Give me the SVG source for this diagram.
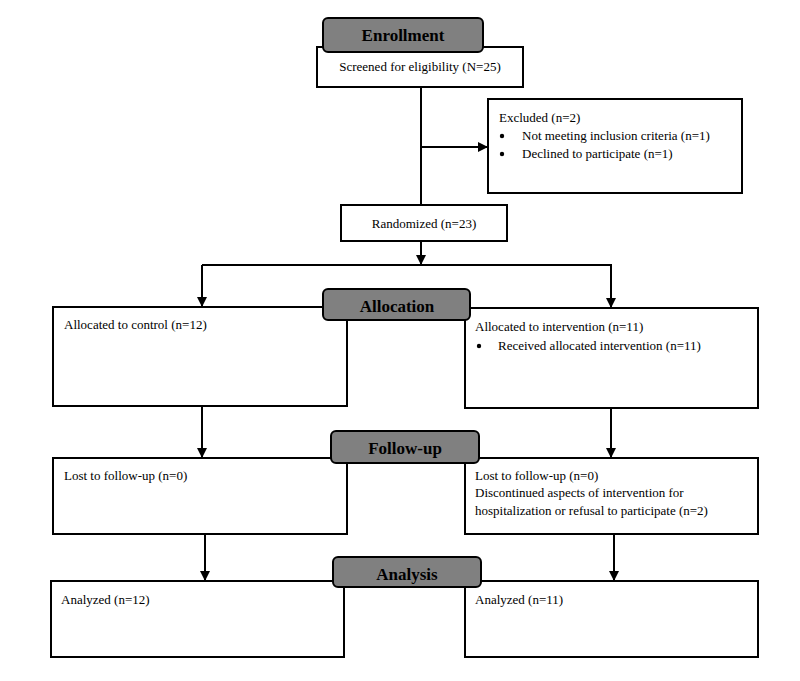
<svg xmlns="http://www.w3.org/2000/svg" width="800" height="681" viewBox="0 0 800 681">
<defs>
<marker id="ah" viewBox="0 0 10 10" refX="10" refY="5" markerWidth="10" markerHeight="10" markerUnits="userSpaceOnUse" orient="auto">
<path d="M0,0 L10,5 L0,10 Z" fill="#000"/>
</marker>
<style>
.box{fill:#fff;stroke:#000;stroke-width:2}
.hdr{fill:#808080;stroke:#000;stroke-width:2}
.t{font-family:"Liberation Serif","Times New Roman",serif;font-size:13px;fill:#000}
.h{font-family:"Liberation Serif","Times New Roman",serif;font-size:17px;font-weight:bold;fill:#000;text-anchor:middle}
.c{fill:none;stroke:#000;stroke-width:2}
</style>
</defs>
<rect width="800" height="681" fill="#fff"/>
<g id="connectors">
<path class="c" d="M421,87 V205"/>
<path class="c" d="M421,147 H488" marker-end="url(#ah)"/>
<path class="c" d="M421,241 V265" marker-end="url(#ah)"/>
<path class="c" d="M202,265 H612"/>
<path class="c" d="M202,265 V307" marker-end="url(#ah)"/>
<path class="c" d="M611,265 V308" marker-end="url(#ah)"/>
<path class="c" d="M202,406 V458" marker-end="url(#ah)"/>
<path class="c" d="M611,408 V458" marker-end="url(#ah)"/>
<path class="c" d="M205,534 V581" marker-end="url(#ah)"/>
<path class="c" d="M614,534 V581" marker-end="url(#ah)"/>
</g>
<g id="screened">
<rect class="box" x="317" y="47" width="206" height="40"/>
<text class="t" x="420" y="71" text-anchor="middle">Screened for eligibility (N=25)</text>
</g>
<g id="enrollment">
<rect class="hdr" x="323" y="18" width="160" height="34" rx="5"/>
<text class="h" x="403" y="41">Enrollment</text>
</g>
<g id="excluded">
<rect class="box" x="488" y="99" width="254" height="94"/>
<text class="t" x="499" y="122">Excluded (n=2)</text>
<circle cx="502" cy="136" r="2.2"/>
<text class="t" x="522" y="140">Not meeting inclusion criteria (n=1)</text>
<circle cx="502" cy="154" r="2.2"/>
<text class="t" x="522" y="158">Declined to participate (n=1)</text>
</g>
<g id="randomized">
<rect class="box" x="341" y="205" width="166" height="36"/>
<text class="t" x="424" y="228" text-anchor="middle">Randomized (n=23)</text>
</g>
<g id="control">
<rect class="box" x="53" y="307" width="294" height="99"/>
<text class="t" x="64" y="329">Allocated to control (n=12)</text>
</g>
<g id="intervention">
<rect class="box" x="465" y="308" width="293" height="100"/>
<text class="t" x="475" y="331">Allocated to intervention (n=11)</text>
<circle cx="479" cy="346" r="2.2"/>
<text class="t" x="498" y="350">Received allocated intervention (n=11)</text>
</g>
<g id="allocation">
<rect class="hdr" x="323" y="289" width="147" height="31" rx="5"/>
<text class="h" x="397" y="312">Allocation</text>
</g>
<g id="followup-control">
<rect class="box" x="53" y="458" width="294" height="76"/>
<text class="t" x="64" y="480">Lost to follow-up (n=0)</text>
</g>
<g id="followup-intervention">
<rect class="box" x="465" y="458" width="293" height="76"/>
<text class="t" x="475" y="480">Lost to follow-up (n=0)</text>
<text class="t" x="475" y="497">Discontinued aspects of intervention for</text>
<text class="t" x="475" y="515">hospitalization or refusal to participate (n=2)</text>
</g>
<g id="followup">
<rect class="hdr" x="331" y="431" width="148" height="32" rx="5"/>
<text class="h" x="405" y="454">Follow-up</text>
</g>
<g id="analyzed-control">
<rect class="box" x="51" y="581" width="293" height="76"/>
<text class="t" x="61" y="604">Analyzed (n=12)</text>
</g>
<g id="analyzed-intervention">
<rect class="box" x="465" y="581" width="293" height="76"/>
<text class="t" x="475" y="604">Analyzed (n=11)</text>
</g>
<g id="analysis">
<rect class="hdr" x="333" y="557" width="148" height="30" rx="5"/>
<text class="h" x="407" y="580">Analysis</text>
</g>
</svg>
